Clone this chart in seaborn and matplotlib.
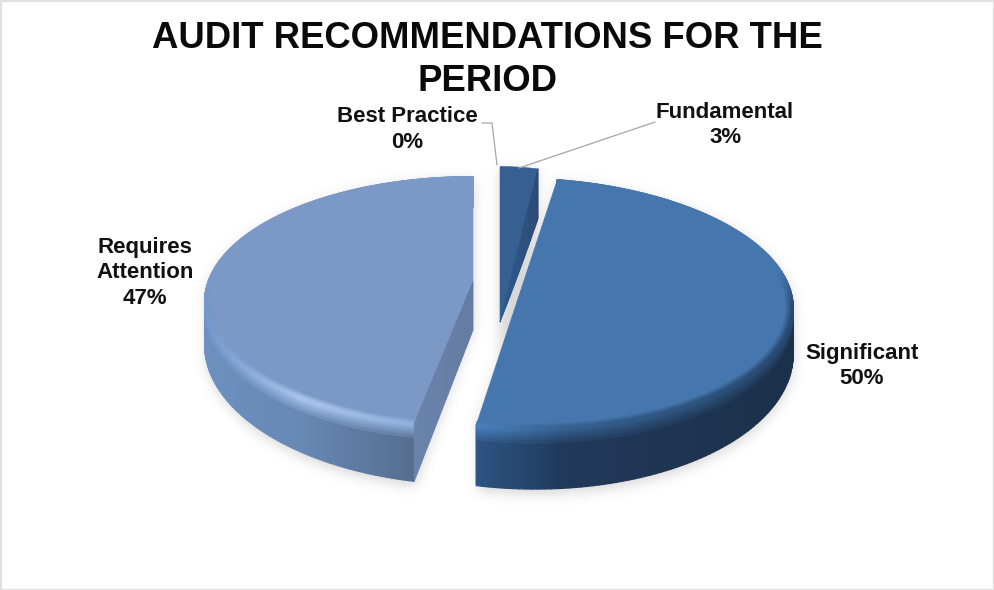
import numpy as np
import matplotlib
matplotlib.use("Agg")
import matplotlib.pyplot as plt
from matplotlib.collections import PolyCollection
from matplotlib.colors import to_rgb
from matplotlib.patches import Polygon, Rectangle
from matplotlib.path import Path
import seaborn as sns

# Chart content
title_text = "AUDIT RECOMMENDATIONS FOR THE\nPERIOD"
categories = ["Fundamental", "Significant", "Requires\nAttention", "Best Practice"]
shares = [3, 50, 47, 0]

# Placement of each exploded slice on the canvas (pixels)
centre_x = [500, 523, 473, 480]
centre_y = [322, 283.5, 282, 300]
radius_x = [235, 265, 265, 265]
radius_y = [180, 122, 122, 122]
shear = [0.0, -0.0387, 0.0, 0.0]
depth = [66, 43, 41, 0]
inner_depth = [0, 43, 48, 0]
label_x = [725, 862, 145, 407]
label_y = [125, 366, 273, 129.5]
PERSPECTIVE = 0.158

top_colours = ["#365f92", "#4676ae", "#7b98c6", "#ffffff"]
wall_stops = [None, [476, 560, 790], [205, 300, 413], None]
wall_colours = [None, ["#2c5483", "#21395a", "#1b3049"], ["#6d90c0", "#6888b5", "#566d90"], None]
rim_colours = [None, ["#4a80bb", "#35608f", "#28486f"], ["#7499cc", "#a9c3ec", "#8fb0dd"], None]
face_colours = [("#2c4a74", "#2b5a90"), None, ("#6a83ab", "#637ba1"), None]
leader_colour = "#a6a6a6"

sns.set_theme(style="white")
plt.rcParams["font.family"] = ["Liberation Sans", "DejaVu Sans"]

W, H = 994, 590
fig = plt.figure(figsize=(W / 100, H / 100), dpi=100, facecolor="white")

# The pie computes the angular span of every slice from the shares
pie_ax = fig.add_axes([0, 0, 0.1, 0.1])
wedges, _ = pie_ax.pie(shares, startangle=90, counterclock=False)
pie_ax.set_visible(False)

ax = fig.add_axes([0, 0, 1, 1])
ax.set_xlim(0, W)
ax.set_ylim(H, 0)
ax.axis("off")


def project(i, x, y, lift=0.0):
    """Map unit-disc coordinates of slice i to canvas pixels with perspective."""
    w = 1 + PERSPECTIVE * y
    px = centre_x[i] + radius_x[i] * (x + shear[i] * y) / w
    py = centre_y[i] - radius_y[i] * y / w + lift / w**2
    return px, py


def arc(wedge, n=160):
    t = np.radians(np.linspace(wedge.theta1, wedge.theta2, n))
    return np.cos(t), np.sin(t)


def top_outline(i, wedge, lift=0.0):
    x, y = arc(wedge)
    px, py = project(i, np.r_[0, x], np.r_[0, y], lift)
    return np.column_stack([px, py])


def blend(c1, c2, f):
    return np.asarray(c1) * (1 - f) + np.asarray(c2) * f


def stops_rgb(px, stops, colours):
    rgb = np.array([to_rgb(c) for c in colours])
    return np.column_stack([np.interp(px, stops, rgb[:, k]) for k in range(3)])


# Soft shadow under the slices
step = 2
gx, gy = np.meshgrid(np.arange(0, W, step) + 0.5, np.arange(0, H, step) + 0.5)
grid = np.column_stack([gx.ravel(), gy.ravel()])
mask = np.zeros(gx.size, dtype=bool)
for i, wedge in enumerate(wedges):
    if shares[i] == 0:
        continue
    for f in np.linspace(0, 1, 6):
        mask |= Path(top_outline(i, wedge, depth[i] * f + 3)).contains_points(grid)
mask = mask.reshape(gx.shape).astype(float)
fy = np.fft.fftfreq(mask.shape[0])[:, None]
fx = np.fft.rfftfreq(mask.shape[1])[None, :]
sigma = 3.0
soft = np.fft.irfft2(np.fft.rfft2(mask) * np.exp(-2 * (np.pi * sigma) ** 2 * (fx**2 + fy**2)), s=mask.shape)
shadow = np.zeros(mask.shape + (4,))
shadow[..., :3] = 0.45
shadow[..., 3] = np.clip(soft, 0, 1) * 0.28
ax.imshow(shadow, extent=(0, W, H, 0), aspect="auto", zorder=1, interpolation="bilinear")
ax.set_xlim(0, W)
ax.set_ylim(H, 0)

# Slice bodies
band_wall = np.array([0, 0.03, 0.06, 0.09, 0.13, 0.18, 0.24, 1.0])
band_top = np.linspace(0.975, 1.0, 7)

for i, wedge in enumerate(wedges):
    if shares[i] == 0:
        continue
    x, y = arc(wedge)
    top_rgb = to_rgb(top_colours[i])

    ax.add_patch(Polygon(top_outline(i, wedge), closed=True, fc=top_colours[i], ec=top_colours[i],
                         lw=0.4, zorder=4))

    if wall_stops[i] is not None:
        px0, _ = project(i, x, y)
        front = np.clip((0.1 - y) / 0.3, 0, 1)[:, None]
        wall = stops_rgb(px0, wall_stops[i], wall_colours[i])
        rim = blend(top_rgb, stops_rgb(px0, wall_stops[i], rim_colours[i]), front)

        # Outer wall, fading in from the rounded rim
        for a, b in zip(band_wall[:-1][::-1], band_wall[1:][::-1]):
            seg = blend(rim, wall, min(a / 0.24, 1.0))
            xa, ya = project(i, x, y, depth[i] * a)
            xb, yb = project(i, x, y, depth[i] * b)
            quads = [[(xa[s], ya[s]), (xa[s + 1], ya[s + 1]), (xb[s + 1], yb[s + 1]), (xb[s], yb[s])]
                     for s in range(len(x) - 1)]
            ax.add_collection(PolyCollection(quads, facecolors=seg[:-1], edgecolors=seg[:-1],
                                             linewidths=0.9, zorder=3))

        # Rounded rim on the upper surface
        for j, (a, b) in enumerate(zip(band_top[:-1], band_top[1:])):
            seg = blend(top_rgb, rim, (j + 1) / (len(band_top) - 1))
            xa, ya = project(i, a * x, a * y)
            xb, yb = project(i, b * x, b * y)
            quads = [[(xa[s], ya[s]), (xa[s + 1], ya[s + 1]), (xb[s + 1], yb[s + 1]), (xb[s], yb[s])]
                     for s in range(len(x) - 1)]
            ax.add_collection(PolyCollection(quads, facecolors=seg[:-1], edgecolors=seg[:-1],
                                             linewidths=0.9, zorder=5))

    # Cut face beside the gap
    if face_colours[i] is not None:
        theta = wedge.theta1 if shares[i] < 10 else wedge.theta2
        ex, ey = np.cos(np.radians(theta)), np.sin(np.radians(theta))
        c_out, c_in = to_rgb(face_colours[i][0]), to_rgb(face_colours[i][1])
        quads, colours = [], []
        us = np.linspace(0, 1, 31)
        for a, b in zip(us[:-1], us[1:]):
            d_a = inner_depth[i] * (1 - a) + depth[i] * a
            d_b = inner_depth[i] * (1 - b) + depth[i] * b
            quads.append([project(i, a * ex, a * ey), project(i, b * ex, b * ey),
                          project(i, b * ex, b * ey, d_b), project(i, a * ex, a * ey, d_a)])
            colours.append(blend(c_in, c_out, b))
        ax.add_collection(PolyCollection(quads, facecolors=colours, edgecolors=colours, linewidths=0.6,
                                         zorder=6))

# Leader lines for the two labels next to the thin slices
ax.plot([482, 492, 497], [123, 123, 165], color=leader_colour, lw=0.9, zorder=7)
ax.plot([519, 655], [168, 122], color=leader_colour, lw=0.9, zorder=7)

# Title and slice labels
ax.text(487, 60, title_text, ha="center", va="center", fontsize=26.3, fontweight="bold",
        color="#0a0a0a", linespacing=1.3, zorder=8)
for i, name in enumerate(categories):
    ax.text(label_x[i], label_y[i], f"{name}\n{shares[i]}%", ha="center", va="center", fontsize=16,
            fontweight="bold", color="#111111", linespacing=1.3, zorder=8)

# Faint frame around the canvas
ax.add_patch(Rectangle((0.5, 0.5), W - 1, H - 1, fc="none", ec="#e0e0e0", lw=1.6, zorder=9))

fig.savefig("out.png", dpi=100, facecolor="white")
